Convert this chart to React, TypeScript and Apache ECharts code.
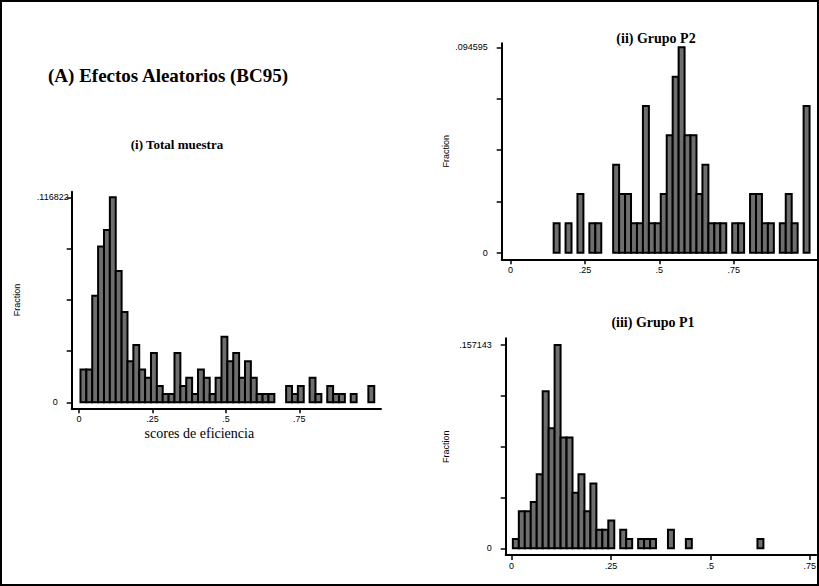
import React, { useEffect, useRef } from "react";
import * as echarts from "echarts";

// (i) Total muestra: counts per bin (bin width 0.02 starting at 0.005)
const totalCounts = [4, 4, 13, 19, 21, 25, 16, 11, 5, 7, 4, 3, 6, 2, 1, 1, 6, 2, 3, 1, 4, 3, 1, 3, 8, 5, 6, 3, 5, 3, 1, 1, 1, 0, 0, 2, 1, 2, 0, 3, 1, 0, 2, 1, 1, 0, 1, 0, 0, 2];
const totalN = 214;
const totalBinStart = 0.005;
const totalBinWidth = 0.02;

// (ii) Grupo P2
const p2Counts = [1, 0, 1, 0, 2, 0, 1, 1, 0, 0, 3, 2, 2, 1, 1, 5, 1, 1, 2, 4, 6, 7, 4, 4, 2, 3, 1, 1, 1, 0, 1, 1, 0, 2, 2, 1, 1, 0, 1, 2, 1, 0, 5];
const p2N = 74;
const p2BinStart = 0.145;
const p2BinWidth = 0.02;

// (iii) Grupo P1
const p1Counts = [1, 4, 4, 5, 8, 17, 13, 22, 12, 12, 6, 8, 4, 7, 2, 2, 3, 0, 2, 1, 0, 1, 1, 1, 0, 0, 2, 0, 0, 1, 0, 0, 0, 0, 0, 0, 0, 0, 0, 0, 0, 1];
const p1N = 140;
const p1BinStart = 0.0035;
const p1BinWidth = 0.015;

const xTickValues = [0, 0.25, 0.5, 0.75];

const mainTitle = "(A) Efectos Aleatorios (BC95)";
const panelTitles = ["(i) Total muestra", "(ii) Grupo P2", "(iii) Grupo P1"];
const xName = "scores de eficiencia";
const yName = "Fraction";

function toBins(counts: number[], n: number, start: number, width: number) {
  const out: number[][] = [];
  counts.forEach((c, i) => {
    if (c > 0) out.push([start + i * width, start + (i + 1) * width, c / n]);
  });
  return out;
}

function fracMax(counts: number[], n: number) {
  return Math.max(...counts) / n;
}

const fmtY = (v: number) => (v === 0 ? "0" : v.toFixed(6).replace(/^0/, ""));
const fmtX = (v: number) => (v === 0 ? "0" : String(v).replace(/^0\./, "."));

const SANS = "Liberation Sans";
const SERIF = "Liberation Serif";

export default function App() {
  const ref = useRef<HTMLDivElement>(null);
  useEffect(() => {
    if (!ref.current) return;
    const chart = echarts.init(ref.current, null, { renderer: "svg" });

    const panels = [
      { counts: totalCounts, n: totalN, start: totalBinStart, width: totalBinWidth,
        grid: { left: 71.7, top: 191.7, width: 309.3, height: 216.6 },
        xmin: -0.0249, xmax: 1.028, ypadLow: 6.0, ypadHigh: 5.6, plotH: 205,
        labelMargin: 3, zeroPad: 11, nameGap: 50 },
      { counts: p2Counts, n: p2N, start: p2BinStart, width: p2BinWidth,
        grid: { left: 501.7, top: 43.3, width: 315, height: 216 },
        xmin: -0.0296, xmax: 1.029, ypadLow: 6.6, ypadHigh: 4.0, plotH: 205.4,
        labelMargin: 14, zeroPad: 0, nameGap: 51 },
      { counts: p1Counts, n: p1N, start: p1BinStart, width: p1BinWidth,
        grid: { left: 505.7, top: 338.3, width: 312.6, height: 216.7 },
        xmin: -0.0145, xmax: 0.766, ypadLow: 6.7, ypadHigh: 6.7, plotH: 203.3,
        labelMargin: 14, zeroPad: 0, nameGap: 55 },
    ];

    const grids: any[] = [];
    const xAxes: any[] = [];
    const yAxes: any[] = [];
    const series: any[] = [];

    panels.forEach((p, i) => {
      const m = fracMax(p.counts, p.n);
      const yTicks = [0, m / 4, m / 2, (3 * m) / 4, m];
      grids.push({ ...p.grid, containLabel: false });
      xAxes.push({
        type: "value",
        gridIndex: i,
        min: p.xmin,
        max: p.xmax,
        axisLine: { show: true, onZero: false, lineStyle: { color: "#000", width: 2 } },
        axisTick: { show: true, customValues: xTickValues, length: 5, lineStyle: { color: "#000", width: 1.5 } },
        axisLabel: {
          show: true,
          customValues: xTickValues,
          formatter: fmtX,
          margin: 6,
          fontFamily: SANS,
          fontSize: 9,
          color: "#000",
        },
        splitLine: { show: false },
        name: i === 0 ? xName : "",
        nameLocation: "middle",
        nameGap: 18,
        nameTextStyle: {
          fontFamily: SERIF,
          fontSize: 14,
          color: "#000",
          padding: [0, 54, 0, 0],
        },
      });
      yAxes.push({
        type: "value",
        gridIndex: i,
        min: -(p.ypadLow / p.plotH) * m,
        max: m + (p.ypadHigh / p.plotH) * m,
        axisLine: { show: true, onZero: false, lineStyle: { color: "#000", width: 2 } },
        axisTick: { show: true, customValues: yTicks, length: 5, lineStyle: { color: "#000", width: 1.5 } },
        axisLabel: {
          show: true,
          customValues: [0, m],
          margin: p.labelMargin,
          fontFamily: SANS,
          fontSize: 9,
          color: "#000",
          formatter: (v: number) => (v === 0 ? "{z|0}" : fmtY(v)),
          rich: { z: { fontFamily: SANS, fontSize: 9, color: "#000", padding: [0, p.zeroPad, 0, 0] } },
        },
        splitLine: { show: false },
        name: yName,
        nameLocation: "middle",
        nameRotate: 90,
        nameGap: p.nameGap,
        nameTextStyle: { fontFamily: SANS, fontSize: 9, color: "#000" },
      });
      series.push({
        type: "custom",
        xAxisIndex: i,
        yAxisIndex: i,
        data: toBins(p.counts, p.n, p.start, p.width),
        encode: { x: [0, 1], y: 2 },
        renderItem: (params: any, api: any) => {
          const a = api.coord([api.value(0), 0]);
          const b = api.coord([api.value(1), api.value(2)]);
          return {
            type: "rect",
            shape: { x: a[0], y: b[1], width: b[0] - a[0], height: a[1] - b[1] },
            style: { fill: "#6e6e6e", stroke: "#000", lineWidth: 2 },
          };
        },
      });
    });

    chart.setOption({
      animation: false,
      backgroundColor: "#fff",
      grid: grids,
      xAxis: xAxes,
      yAxis: yAxes,
      series,
      title: [
        { text: panelTitles[0], left: 172, top: 133, textAlign: "center",
          textStyle: { fontFamily: SERIF, fontWeight: "bold", fontSize: 13, color: "#000" } },
        { text: panelTitles[1], left: 651, top: 26, textAlign: "center",
          textStyle: { fontFamily: SERIF, fontWeight: "bold", fontSize: 14, color: "#000" } },
        { text: panelTitles[2], left: 648, top: 310, textAlign: "center",
          textStyle: { fontFamily: SERIF, fontWeight: "bold", fontSize: 14, color: "#000" } },
      ],
      graphic: [
        { type: "rect", shape: { x: 1, y: 1, width: 817, height: 584 },
          style: { fill: "none", stroke: "#000", lineWidth: 2 }, silent: true },
        { type: "text", x: 48, y: 75,
          style: { text: mainTitle, fontFamily: SERIF, fontWeight: "bold", fontSize: 19, fill: "#000", textVerticalAlign: "middle" } },
      ],
    });
    return () => chart.dispose();
  }, []);
  return <div ref={ref} style={{ position: "fixed", left: 0, top: 0, width: 819, height: 586 }} />;
}
